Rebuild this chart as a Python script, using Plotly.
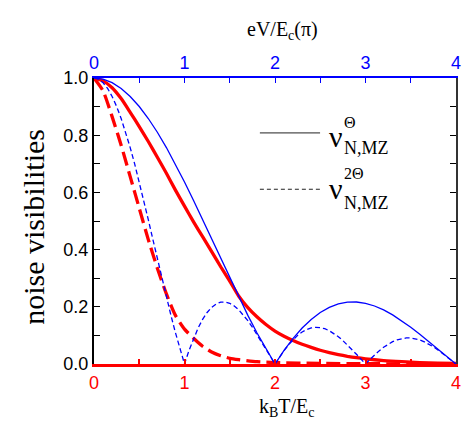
import plotly.graph_objects as go

# --- data ---
# top axis eV/Ec (pi), step 0.1 for solid, 0.05 for dashed
v_solid_x = [round(i * 0.1, 2) for i in range(41)]
v_solid_y = [1.0, 0.9959, 0.9836, 0.9634, 0.9355, 0.9003, 0.8584, 0.8103, 0.7568, 0.6986,
             0.6366, 0.5716, 0.5046, 0.4363, 0.3679, 0.3001, 0.2339, 0.1700, 0.1093, 0.0524,
             0.0, 0.0474, 0.0894, 0.1257, 0.1559, 0.1801, 0.1981, 0.2101, 0.2162, 0.2168,
             0.2122, 0.2028, 0.1892, 0.1719, 0.1515, 0.1286, 0.1039, 0.0781, 0.0518, 0.0255, 0.0]

v_dash_x = [round(i * 0.05, 2) for i in range(81)]
v_dash_y = [1.0, 0.9959, 0.9836, 0.9634, 0.9355, 0.9003, 0.8584, 0.8103, 0.7568, 0.6986,
            0.6366, 0.5716, 0.5046, 0.4363, 0.3679, 0.3001, 0.2339, 0.1700, 0.1093, 0.0524,
            0.0, 0.0474, 0.0894, 0.1257, 0.1559, 0.1801, 0.1981, 0.2101, 0.2162, 0.2168,
            0.2122, 0.2028, 0.1892, 0.1719, 0.1515, 0.1286, 0.1039, 0.0781, 0.0518, 0.0255,
            0.0, 0.0243, 0.0468, 0.0672, 0.0850, 0.1000, 0.1120, 0.1207, 0.1261, 0.1283,
            0.1273, 0.1233, 0.1164, 0.1070, 0.0954, 0.0819, 0.0668, 0.0507, 0.0339, 0.0169,
            0.0, 0.0163, 0.0317, 0.0459, 0.0585, 0.0693, 0.0780, 0.0847, 0.0890, 0.0911,
            0.0910, 0.0886, 0.0841, 0.0777, 0.0696, 0.0600, 0.0492, 0.0375, 0.0252, 0.0126, 0.0]

# bottom axis kBT/Ec
t_solid_x = [0, 0.1, 0.2, 0.3, 0.4, 0.5, 0.6, 0.7, 0.8, 0.9, 1.0, 1.1, 1.2, 1.3, 1.4, 1.5,
             1.6, 1.7, 1.8, 1.9, 2.0, 2.1, 2.2, 2.3, 2.4, 2.5, 2.6, 2.7, 2.8, 2.9, 3.0,
             3.2, 3.4, 3.6, 3.8, 4.0]
t_solid_y = [1.0, 0.99, 0.966, 0.928, 0.88, 0.83, 0.778, 0.723, 0.667, 0.608, 0.552, 0.497,
             0.445, 0.393, 0.34, 0.29, 0.237, 0.197, 0.165, 0.138, 0.115, 0.097, 0.082,
             0.069, 0.058, 0.048, 0.040, 0.033, 0.027, 0.022, 0.018, 0.012, 0.008, 0.005,
             0.003, 0.002]

t_dash_x = [0, 0.1, 0.2, 0.3, 0.4, 0.5, 0.6, 0.7, 0.8, 0.9, 1.0, 1.1, 1.2, 1.3, 1.4, 1.5,
            1.6, 1.8, 2.0, 2.5, 3.0, 4.0]
t_dash_y = [1.0, 0.955, 0.865, 0.765, 0.655, 0.545, 0.435, 0.335, 0.245, 0.17, 0.122, 0.09,
            0.062, 0.042, 0.029, 0.02, 0.015, 0.008, 0.005, 0.002, 0.001, 0.0]

x_ticks = [0, 1, 2, 3, 4]
y_ticks = [0.0, 0.2, 0.4, 0.6, 0.8, 1.0]
y_ticklabels = ["0.0", "0.2", "0.4", "0.6", "0.8", "1.0"]

BLUE = "#0000ff"
RED = "#ff0000"
SERIF = "Liberation Serif"
SANS = "Liberation Sans"

fig = go.Figure()
fig.add_trace(go.Scatter(x=v_solid_x, y=v_solid_y, xaxis="x2", mode="lines",
                         line=dict(color=BLUE, width=1.3), showlegend=False))
fig.add_trace(go.Scatter(x=v_dash_x, y=v_dash_y, xaxis="x2", mode="lines",
                         line=dict(color=BLUE, width=1.3, dash="5px,3px"), showlegend=False))
fig.add_trace(go.Scatter(x=t_solid_x, y=t_solid_y, mode="lines",
                         line=dict(color=RED, width=3.3, shape="spline", smoothing=0.6),
                         showlegend=False))
fig.add_trace(go.Scatter(x=t_dash_x, y=t_dash_y, mode="lines",
                         line=dict(color=RED, width=3.3, dash="14px,6px", shape="spline", smoothing=0.6),
                         showlegend=False))
# invisible trace on right axis
fig.add_trace(go.Scatter(x=[0], y=[0], yaxis="y2", mode="markers",
                         marker=dict(opacity=0), showlegend=False, hoverinfo="skip"))

fig.update_layout(
    width=473, height=428,
    margin=dict(l=94, r=12, t=78, b=64),
    paper_bgcolor="white", plot_bgcolor="white",
    showlegend=False,
    xaxis=dict(range=[0, 4], tickvals=x_ticks, ticktext=[str(v) for v in x_ticks],
               showgrid=False, zeroline=False, showline=True, linecolor=RED, linewidth=3,
               ticks="inside", ticklen=5, tickcolor=RED, tickwidth=1.5,
               minor=dict(dtick=0.5, ticks="inside", ticklen=5, tickcolor=RED),
               tickfont=dict(family=SANS, size=18, color=RED)),
    xaxis2=dict(range=[0, 4], overlaying="x", side="top", tickvals=x_ticks,
                ticktext=[str(v) for v in x_ticks],
                showgrid=False, zeroline=False, showline=True, linecolor=BLUE, linewidth=1.5,
                ticks="inside", ticklen=5, tickcolor=BLUE, tickwidth=1.2,
                minor=dict(dtick=0.5, ticks="inside", ticklen=5, tickcolor=BLUE),
                tickfont=dict(family=SANS, size=18, color=BLUE)),
    yaxis=dict(range=[0, 1], tickvals=y_ticks, ticktext=y_ticklabels,
               showgrid=False, zeroline=False, showline=True, linecolor="black", linewidth=2,
               ticks="inside", ticklen=6, tickcolor="black", tickwidth=1.3,
               minor=dict(dtick=0.1, ticks="inside", ticklen=6, tickcolor="black"),
               tickfont=dict(family=SANS, size=18, color="black")),
    yaxis2=dict(range=[0, 1], overlaying="y", side="right", showticklabels=False,
                showgrid=False, zeroline=False, showline=True, linecolor="#333333", linewidth=2,
                tickvals=y_ticks, ticks="inside", ticklen=6, tickcolor="black", tickwidth=1.3,
                minor=dict(dtick=0.1, ticks="inside", ticklen=6, tickcolor="black")),
)

# legend lines
fig.add_shape(type="line", x0=1.833, x1=2.498, y0=0.808, y1=0.808, xref="x", yref="y",
              line=dict(color="#222222", width=1))
fig.add_shape(type="line", x0=1.833, x1=2.498, y0=0.611, y1=0.611, xref="x", yref="y",
              line=dict(color="#222222", width=1, dash="4px,3px"))

def px_x(px):
    return (px - 94) / 367.0

def px_y(py):
    return (364 - py) / 286.0

ann = []
# legend labels
ann.append(dict(text="ν", x=px_x(339), y=px_y(136), font=dict(family=SERIF, size=30, color="black")))
ann.append(dict(text="Θ", x=px_x(354), y=px_y(123), font=dict(family=SERIF, size=16, color="black")))
ann.append(dict(text="N,MZ", x=px_x(370), y=px_y(148), font=dict(family=SERIF, size=18, color="black")))
ann.append(dict(text="ν", x=px_x(339), y=px_y(188), font=dict(family=SERIF, size=30, color="black")))
ann.append(dict(text="2Θ", x=px_x(358), y=px_y(173), font=dict(family=SERIF, size=16, color="black")))
ann.append(dict(text="N,MZ", x=px_x(370), y=px_y(203), font=dict(family=SERIF, size=18, color="black")))
# axis titles
ann.append(dict(text="eV/E<sub>c</sub>(π)", x=px_x(285), y=px_y(31),
                font=dict(family=SERIF, size=20, color="black")))
ann.append(dict(text="k<sub>B</sub>T/E<sub>c</sub>", x=px_x(290), y=px_y(408),
                font=dict(family=SERIF, size=20, color="black")))
ann.append(dict(text="noise visibilities", x=px_x(32), y=px_y(227), textangle=-90,
                font=dict(family=SERIF, size=30, color="black")))
for a in ann:
    a.update(xref="paper", yref="paper", showarrow=False, xanchor="center", yanchor="middle")
    fig.add_annotation(**a)

fig.write_html("out.html")
